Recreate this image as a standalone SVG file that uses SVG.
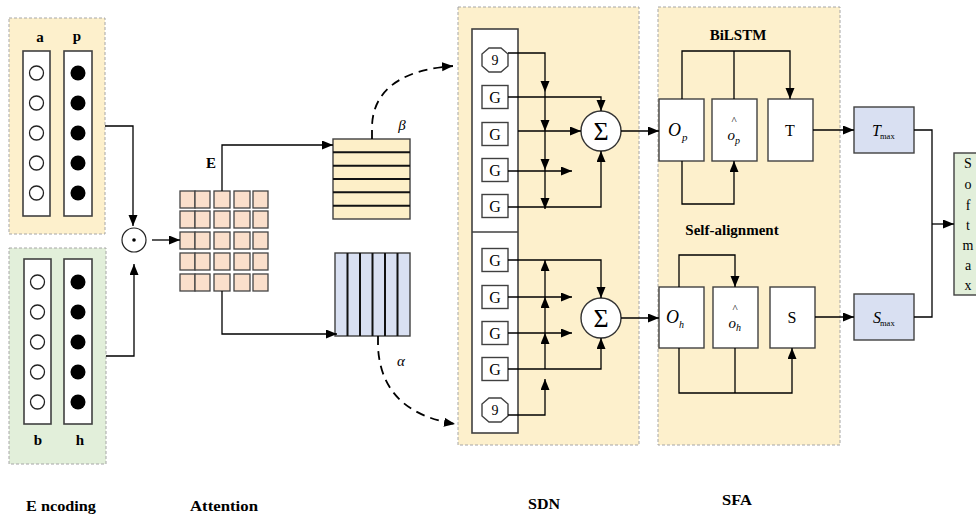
<svg xmlns="http://www.w3.org/2000/svg" width="976" height="520" viewBox="0 0 976 520">
  <defs>
    <marker id="arr" markerUnits="userSpaceOnUse" markerWidth="12" markerHeight="10" refX="11" refY="4.5" orient="auto">
      <path d="M0,0 L11,4.5 L0,9 z" fill="#000"/>
    </marker>
    <style>
      .panel { stroke: #a6a6a6; stroke-width: 1; stroke-dasharray: 3,2; }
      .yel { fill: #fdf0cc; }
      .grn { fill: #e2efda; }
      .col { fill: #fff; stroke: #404040; stroke-width: 1.6; }
      .ow { fill: #fff; stroke: #222; stroke-width: 1.3; }
      .ob { fill: #000; }
      .cell { fill: #fadfcb; stroke: #444; stroke-width: 1.3; }
      .box { fill: #fff; stroke: #404040; stroke-width: 1.4; }
      .blu { fill: #d9e0f2; stroke: #404040; stroke-width: 1.4; }
      .con { fill: none; stroke: #000; stroke-width: 1.3; }
      .conA { fill: none; stroke: #000; stroke-width: 1.3; marker-end: url(#arr); }
      .dash { fill: none; stroke: #000; stroke-width: 1.8; stroke-dasharray: 9,6; marker-end: url(#arr); }
      .t { font-family: "Liberation Serif", "Times New Roman", serif; fill: #000; }
      .b { font-weight: bold; }
      .i { font-style: italic; }
    </style>
  </defs>

  <!-- Encoding: premise / aspect -->
  <g id="enc-top">
    <rect class="panel yel" x="9" y="18" width="96" height="216"/>
    <rect class="col" x="23" y="51" width="27" height="165"/>
    <rect class="col" x="64" y="51" width="28" height="165"/>
    <circle class="ow" cx="36.5" cy="73" r="7"/>
    <circle class="ow" cx="36.5" cy="103" r="7"/>
    <circle class="ow" cx="36.5" cy="133" r="7"/>
    <circle class="ow" cx="36.5" cy="163" r="7"/>
    <circle class="ow" cx="36.5" cy="193" r="7"/>
    <circle class="ob" cx="78" cy="73" r="7.5"/>
    <circle class="ob" cx="78" cy="103" r="7.5"/>
    <circle class="ob" cx="78" cy="133" r="7.5"/>
    <circle class="ob" cx="78" cy="163" r="7.5"/>
    <circle class="ob" cx="78" cy="193" r="7.5"/>
    <text class="t b" x="40" y="42" font-size="15" text-anchor="middle">a</text>
    <text class="t b" x="77" y="41" font-size="15" text-anchor="middle">p</text>
  </g>

  <!-- Encoding: hypothesis -->
  <g id="enc-bottom">
    <rect class="panel grn" x="9" y="248" width="97" height="216"/>
    <rect class="col" x="24" y="259" width="27" height="165"/>
    <rect class="col" x="64" y="259" width="28" height="165"/>
    <circle class="ow" cx="37.5" cy="282" r="7"/>
    <circle class="ow" cx="37.5" cy="312" r="7"/>
    <circle class="ow" cx="37.5" cy="342" r="7"/>
    <circle class="ow" cx="37.5" cy="372" r="7"/>
    <circle class="ow" cx="37.5" cy="402" r="7"/>
    <circle class="ob" cx="78" cy="282" r="7.5"/>
    <circle class="ob" cx="78" cy="312" r="7.5"/>
    <circle class="ob" cx="78" cy="342" r="7.5"/>
    <circle class="ob" cx="78" cy="372" r="7.5"/>
    <circle class="ob" cx="78" cy="402" r="7.5"/>
    <text class="t b" x="38" y="445" font-size="15" text-anchor="middle">b</text>
    <text class="t b" x="80" y="445" font-size="15" text-anchor="middle">h</text>
  </g>

  <!-- element-wise product -->
  <g id="odot">
    <circle cx="134" cy="240" r="12" fill="#fff" stroke="#222" stroke-width="1.2"/>
    <circle cx="134" cy="240" r="1.8" fill="#000"/>
  </g>

  <!-- interaction matrix E -->
  <g id="matrix">
    <text class="t b" x="211" y="168" font-size="15" text-anchor="middle">E</text>
    <g>
      <rect class="cell" x="180" y="191" width="15" height="17"/><rect class="cell" x="195" y="191" width="15" height="17"/><rect class="cell" x="214" y="191" width="16" height="17"/><rect class="cell" x="234" y="191" width="16" height="17"/><rect class="cell" x="253" y="191" width="15" height="17"/>
      <rect class="cell" x="180" y="211" width="15" height="17"/><rect class="cell" x="195" y="211" width="15" height="17"/><rect class="cell" x="214" y="211" width="16" height="17"/><rect class="cell" x="234" y="211" width="16" height="17"/><rect class="cell" x="253" y="211" width="15" height="17"/>
      <rect class="cell" x="180" y="232" width="15" height="17"/><rect class="cell" x="195" y="232" width="15" height="17"/><rect class="cell" x="214" y="232" width="16" height="17"/><rect class="cell" x="234" y="232" width="16" height="17"/><rect class="cell" x="253" y="232" width="15" height="17"/>
      <rect class="cell" x="180" y="253" width="15" height="17"/><rect class="cell" x="195" y="253" width="15" height="17"/><rect class="cell" x="214" y="253" width="16" height="17"/><rect class="cell" x="234" y="253" width="16" height="17"/><rect class="cell" x="253" y="253" width="15" height="17"/>
      <rect class="cell" x="180" y="274" width="15" height="17"/><rect class="cell" x="195" y="274" width="15" height="17"/><rect class="cell" x="214" y="274" width="16" height="17"/><rect class="cell" x="234" y="274" width="16" height="17"/><rect class="cell" x="253" y="274" width="15" height="17"/>
    </g>
  </g>

  <!-- beta: row-wise attention -->
  <g id="beta">
    <rect x="333" y="139" width="77" height="80" fill="#fdefc8" stroke="#404040" stroke-width="1.4"/>
    <path d="M333,152.3 H410 M333,165.7 H410 M333,179 H410 M333,192.3 H410 M333,205.7 H410" stroke="#111" stroke-width="2"/>
    <text class="t i" x="402" y="130" font-size="15" text-anchor="middle">β</text>
  </g>

  <!-- alpha: column-wise attention -->
  <g id="alpha">
    <rect x="335" y="253" width="75" height="83" fill="#d9e0f2" stroke="#404040" stroke-width="1.4"/>
    <path d="M347.5,253 V336 M360,253 V336 M372.5,253 V336 M385,253 V336 M397.5,253 V336" stroke="#111" stroke-width="2"/>
    <text class="t i" x="401" y="366" font-size="15" text-anchor="middle">α</text>
  </g>

  <!-- SDN panel -->
  <g id="sdn">
    <rect class="panel yel" x="458" y="7" width="181" height="438"/>
    <rect class="col" x="472" y="29" width="46" height="404"/>
    <line x1="472" y1="232" x2="518" y2="232" stroke="#404040" stroke-width="1.6"/>
  </g>

  <g id="sdn-gates-top">
    <polygon class="box" points="489,48 501,48 508,54 508,66 501,72 489,72 482,66 482,54"/>
    <text class="t" x="495" y="65" font-size="14" text-anchor="middle">9</text>
    <rect class="box" x="482" y="85.5" width="26" height="23"/>
    <text class="t" x="495" y="103" font-size="16" text-anchor="middle">G</text>
    <rect class="box" x="482" y="122.5" width="26" height="23"/>
    <text class="t" x="495" y="140" font-size="16" text-anchor="middle">G</text>
    <rect class="box" x="482" y="158.5" width="26" height="23"/>
    <text class="t" x="495" y="176" font-size="16" text-anchor="middle">G</text>
    <rect class="box" x="482" y="194.5" width="26" height="23"/>
    <text class="t" x="495" y="212" font-size="16" text-anchor="middle">G</text>
  </g>

  <g id="sdn-gates-bottom">
    <rect class="box" x="482" y="248.5" width="26" height="23"/>
    <text class="t" x="495" y="266" font-size="16" text-anchor="middle">G</text>
    <rect class="box" x="482" y="285.5" width="26" height="23"/>
    <text class="t" x="495" y="303" font-size="16" text-anchor="middle">G</text>
    <rect class="box" x="482" y="321.5" width="26" height="23"/>
    <text class="t" x="495" y="339" font-size="16" text-anchor="middle">G</text>
    <rect class="box" x="482" y="357.5" width="26" height="23"/>
    <text class="t" x="495" y="375" font-size="16" text-anchor="middle">G</text>
    <polygon class="box" points="489,398 501,398 508,404 508,416 501,422 489,422 482,416 482,404"/>
    <text class="t" x="495" y="415" font-size="14" text-anchor="middle">9</text>
  </g>

  <g id="sum-top">
    <circle cx="601" cy="131" r="20" fill="#fff" stroke="#333" stroke-width="1.4"/>
    <text class="t" x="601" y="140" font-size="26" text-anchor="middle">Σ</text>
  </g>
  <g id="sum-bottom">
    <circle cx="601" cy="318" r="20" fill="#fff" stroke="#333" stroke-width="1.4"/>
    <text class="t" x="601" y="327" font-size="26" text-anchor="middle">Σ</text>
  </g>

  <!-- SFA panel -->
  <g id="sfa">
    <rect class="panel yel" x="658" y="7" width="182" height="438"/>
    <text class="t b" x="738" y="40" font-size="15" text-anchor="middle">BiLSTM</text>
    <text class="t b" x="732" y="235" font-size="15" text-anchor="middle">Self-alignment</text>
  </g>

  <g id="op">
    <rect class="box" x="659" y="99" width="45" height="62"/>
    <text class="t i" x="681" y="136" font-size="18" text-anchor="end">O</text>
    <text class="t i" x="682" y="141" font-size="11">p</text>
  </g>
  <g id="op-hat">
    <rect class="box" x="712" y="99" width="45" height="62"/>
    <text class="t" x="734" y="124" font-size="11" text-anchor="middle">^</text>
    <text class="t i" x="735" y="140" font-size="15" text-anchor="end">o</text>
    <text class="t i" x="735" y="144" font-size="10">p</text>
  </g>
  <g id="t-node">
    <rect class="box" x="768" y="99" width="45" height="62"/>
    <text class="t" x="790" y="136" font-size="16" text-anchor="middle">T</text>
  </g>

  <g id="oh">
    <rect class="box" x="659" y="287" width="45" height="61"/>
    <text class="t i" x="679" y="323" font-size="18" text-anchor="end">O</text>
    <text class="t i" x="679" y="328" font-size="10" fill="#8a8a8a">h</text>
  </g>
  <g id="oh-hat">
    <rect class="box" x="713" y="287" width="45" height="61"/>
    <text class="t" x="735" y="312" font-size="11" text-anchor="middle">^</text>
    <text class="t i" x="736" y="328" font-size="15" text-anchor="end">o</text>
    <text class="t i" x="736" y="331" font-size="10">h</text>
  </g>
  <g id="s-node">
    <rect class="box" x="770" y="287" width="45" height="61"/>
    <text class="t" x="792" y="323" font-size="16" text-anchor="middle">S</text>
  </g>

  <g id="tmax">
    <rect class="blu" x="854" y="107" width="60" height="46"/>
    <text class="t i" x="881" y="136" font-size="16" text-anchor="end">T</text>
    <text class="t" x="880" y="139" font-size="8.5">max</text>
  </g>
  <g id="smax">
    <rect class="blu" x="854" y="294" width="60" height="46"/>
    <text class="t i" x="881" y="323" font-size="16" text-anchor="end">S</text>
    <text class="t" x="880" y="326" font-size="8.5">max</text>
  </g>

  <g id="softmax">
    <rect x="954" y="153" width="30" height="142" fill="#e2efda" stroke="#404040" stroke-width="1.4"/>
    <g class="t" font-size="14" text-anchor="middle">
      <text x="968" y="168">S</text>
      <text x="968" y="189">o</text>
      <text x="968" y="210">f</text>
      <text x="968" y="230">t</text>
      <text x="968" y="250">m</text>
      <text x="968" y="270">a</text>
      <text x="968" y="290">x</text>
    </g>
  </g>

  <!-- section captions -->
  <g id="captions" class="t b" font-size="14">
    <text x="26" y="511" textLength="70" lengthAdjust="spacingAndGlyphs">E ncoding</text>
    <text x="190" y="511" textLength="68" lengthAdjust="spacingAndGlyphs">Attention</text>
    <text x="528" y="509" textLength="32" lengthAdjust="spacingAndGlyphs">SDN</text>
    <text x="722" y="505" textLength="30" lengthAdjust="spacingAndGlyphs">SFA</text>
  </g>

  <!-- connectors -->
  <g id="connectors">
    <path class="conA" d="M105,126 H133 V226"/>
    <path class="conA" d="M106,356 H134 V264"/>
    <path class="conA" d="M152,240 H180"/>
    <path class="conA" d="M222,191 V145 H333"/>
    <path class="conA" d="M222,291 V334 H337"/>
    <path class="dash" d="M372,139 V128 C372,95 395,70 453,66"/>
    <path class="dash" d="M378,336 V347 C380,385 400,415 455,424"/>

    <!-- SDN upper half -->
    <path class="conA" d="M508,53 H545 V92"/>
    <path class="conA" d="M545,92 V131"/>
    <path class="conA" d="M545,131 V170"/>
    <path class="conA" d="M545,170 V209"/>
    <path class="conA" d="M508,97 H601 V111"/>
    <path class="conA" d="M518,131 H581"/>
    <path class="conA" d="M508,171 H572"/>
    <path class="conA" d="M508,207 H601 V151"/>
    <path class="conA" d="M621,131 H659"/>

    <!-- SDN lower half -->
    <path class="conA" d="M545,369 V333"/>
    <path class="conA" d="M545,333 V297"/>
    <path class="conA" d="M545,297 V260"/>
    <path class="conA" d="M508,415 H545 V379"/>
    <path class="conA" d="M508,260 H601 V298"/>
    <path class="conA" d="M508,297 H572"/>
    <path class="conA" d="M508,333 H572"/>
    <path class="conA" d="M508,369 H601 V338"/>
    <path class="conA" d="M621,318 H659"/>

    <!-- SFA upper -->
    <path class="conA" d="M682,99 V51 H790 V99"/>
    <path class="con" d="M734,99 V51"/>
    <path class="conA" d="M682,161 V204 H734 V161"/>
    <path class="conA" d="M813,130 H854"/>

    <!-- SFA lower -->
    <path class="conA" d="M679,287 V255 H735 V287"/>
    <path class="conA" d="M679,348 V393 H792 V348"/>
    <path class="con" d="M735,348 V393"/>
    <path class="conA" d="M815,317 H854"/>

    <!-- pooling to softmax -->
    <path class="con" d="M914,130 H932 V317 H914"/>
    <path class="conA" d="M932,224 H954"/>
  </g>
</svg>
